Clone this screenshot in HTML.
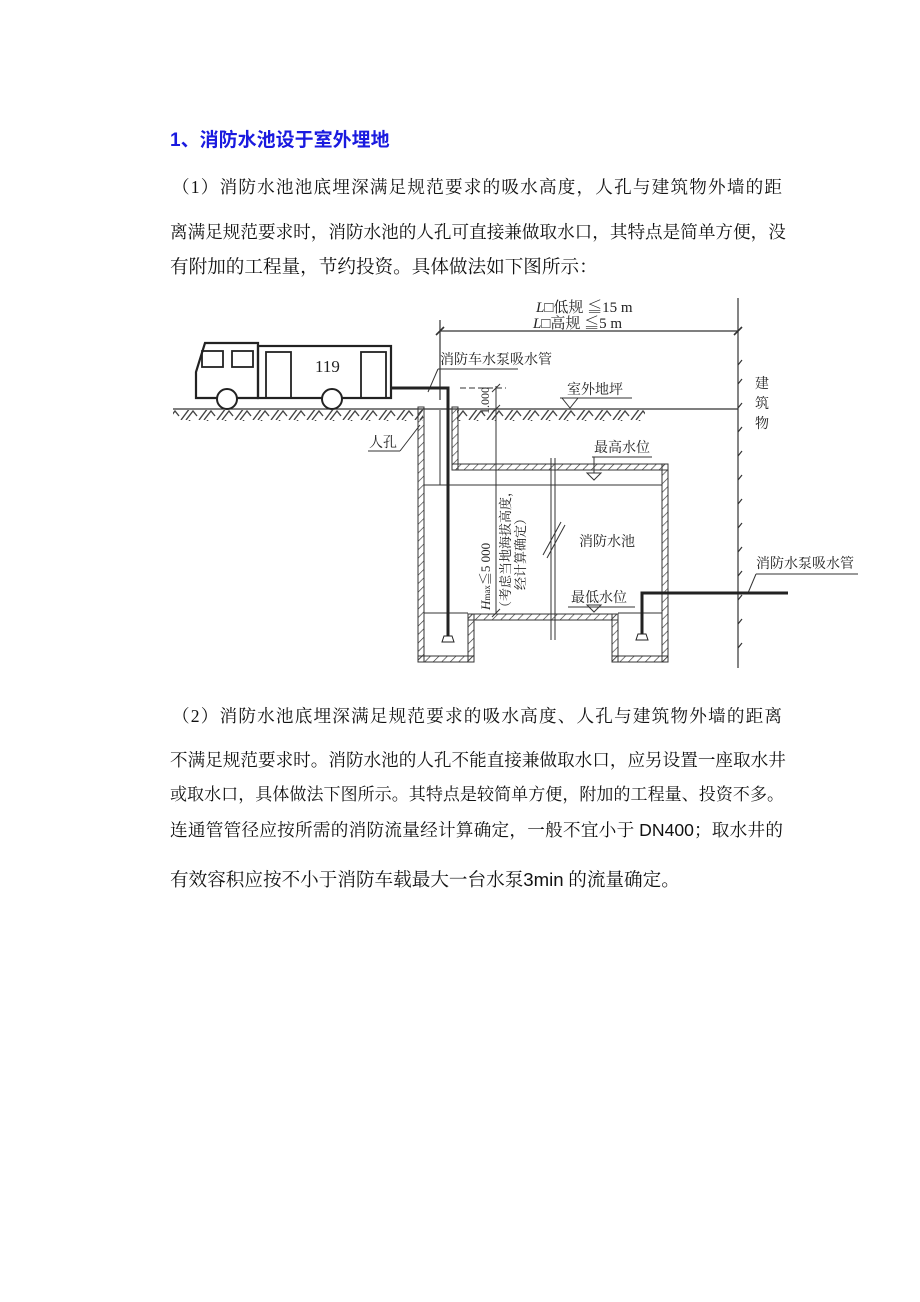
<!DOCTYPE html>
<html><head><meta charset="utf-8"><style>
html,body{margin:0;padding:0;background:#fff;}
body{width:920px;height:1302px;position:relative;overflow:hidden;font-family:"Liberation Serif","Noto Serif CJK SC","Noto Sans CJK SC",serif;color:#111;}
.l{position:absolute;left:170px;font-size:18.6px;white-space:nowrap;line-height:24px;}
.j{width:614px;font-size:17.6px;text-align:justify;text-align-last:justify;white-space:nowrap;}
.h{position:absolute;left:170px;top:125px;font-size:19px;font-weight:bold;color:#1a1adf;font-family:"Liberation Sans","Noto Sans CJK SC",sans-serif;}
svg{position:absolute;left:0;top:0;}
svg text{font-family:"Liberation Serif","Noto Serif CJK SC",serif;fill:#222;}
</style></head><body>
<div class="h">1、消防水池设于室外埋地</div>
<div class="l j" style="top:175px;left:172px;width:610px">（1）消防水池池底埋深满足规范要求的吸水高度，人孔与建筑物外墙的距</div>
<div class="l j" style="top:220px">离满足规范要求时，消防水池的人孔可直接兼做取水口，其特点是简单方便，没</div>
<div class="l" style="top:256px">有附加的工程量，节约投资。具体做法如下图所示：</div>

<div class="l j" style="top:704px;left:172px;width:610px">（2）消防水池底埋深满足规范要求的吸水高度、人孔与建筑物外墙的距离</div>
<div class="l j" style="top:748px">不满足规范要求时。消防水池的人孔不能直接兼做取水口，应另设置一座取水井</div>
<div class="l j" style="top:783px;font-size:17px">或取水口，具体做法下图所示。其特点是较简单方便，附加的工程量、投资不多。</div>
<div class="l j" style="top:818px;width:613px">连通管管径应按所需的消防流量经计算确定，一般不宜小于 <span style="font-family:'Liberation Sans',sans-serif">DN400</span>；取水井的</div>
<div class="l" style="top:868px">有效容积应按不小于消防车载最大一台水泵<span style="font-family:'Liberation Sans',sans-serif">3min</span> 的流量确定。</div>

<svg width="920" height="1302" viewBox="0 0 920 1302">
<defs>
<pattern id="hat" width="6" height="6" patternUnits="userSpaceOnUse" patternTransform="rotate(45)">
<line x1="0" y1="0" x2="0" y2="6" stroke="#333" stroke-width="1.3"/></pattern>
<pattern id="gh" width="18" height="12" patternUnits="userSpaceOnUse">
<path d="M1 12 L10 0 M6 12 L13 3 L17 8" stroke="#444" stroke-width="1.4" fill="none"/></pattern>
</defs>
<g stroke="#333" fill="none" stroke-width="1.2">
<line x1="173" y1="409" x2="738" y2="409"/>
<rect x="173" y="410" width="250" height="11" fill="url(#gh)" stroke="none"/>
<rect x="457" y="410" width="188" height="11" fill="url(#gh)" stroke="none"/>
<line x1="440" y1="320" x2="440" y2="400"/>
<line x1="440" y1="331" x2="738" y2="331"/>
<line x1="436" y1="335" x2="444" y2="327" stroke-width="1.6"/>
<line x1="734" y1="335" x2="742" y2="327" stroke-width="1.6"/>
<line x1="738" y1="298" x2="738" y2="668"/>
</g>
<g stroke="#333" stroke-width="1.2">
<path d="M738 365 l4 -5 M738 384 l4 -5 M738 408 l4 -5 M738 432 l4 -5 M738 456 l4 -5 M738 480 l4 -5 M738 504 l4 -5 M738 528 l4 -5 M738 552 l4 -5 M738 576 l4 -5 M738 600 l4 -5 M738 624 l4 -5 M738 648 l4 -5"/>
</g>
<g fill="url(#hat)" stroke="#333" stroke-width="1">
<rect x="418" y="407" width="6" height="255"/>
<rect x="452" y="407" width="6" height="63"/>
<rect x="452" y="464" width="216" height="6"/>
<rect x="662" y="464" width="6" height="198"/>
<rect x="418" y="656" width="56" height="6"/>
<rect x="612" y="656" width="56" height="6"/>
<rect x="468" y="614" width="6" height="48"/>
<rect x="612" y="614" width="6" height="48"/>
<rect x="468" y="614" width="150" height="6"/>
</g>
<g stroke="#333" fill="none" stroke-width="1">
<line x1="424" y1="485" x2="662" y2="485"/>
<line x1="424" y1="613" x2="468" y2="613"/>
<line x1="618" y1="613" x2="662" y2="613"/>
<line x1="440" y1="410" x2="440" y2="485"/>
<line x1="551" y1="458" x2="551" y2="640"/><line x1="555" y1="458" x2="555" y2="640"/>
<line x1="543" y1="555" x2="561" y2="522"/><line x1="547" y1="558" x2="565" y2="525"/>
<line x1="496" y1="386" x2="496" y2="614"/>
<line x1="460" y1="388" x2="506" y2="388" stroke-dasharray="6,3"/>
<line x1="492" y1="392" x2="500" y2="384"/>
<line x1="492" y1="413" x2="500" y2="405"/>
<line x1="492" y1="617" x2="500" y2="609"/>
<path d="M562 398 L578 398 L570 408 Z"/>
<path d="M587 473 L601 473 L594 480 Z"/>
<path d="M587 605 L601 605 L594 612 Z"/>
<line x1="438" y1="369" x2="518" y2="369"/>
<line x1="438" y1="369" x2="428" y2="392"/>
<line x1="560" y1="398" x2="632" y2="398"/>
<line x1="368" y1="451" x2="400" y2="451"/><line x1="400" y1="451" x2="420" y2="425"/>
<line x1="592" y1="457" x2="652" y2="457"/><line x1="594" y1="457" x2="594" y2="473"/>
<line x1="568" y1="607" x2="635" y2="607"/>
<line x1="756" y1="574" x2="858" y2="574"/><line x1="756" y1="574" x2="748" y2="593"/>
</g>
<g stroke="#222" fill="none" stroke-width="3">
<path d="M391 388 L448 388 L448 636"/>
<path d="M788 593 L642 593 L642 634"/>
</g>
<g fill="#fff" stroke="#222" stroke-width="1"><path d="M444 636 h8 l2 6 h-12 z"/><path d="M638 634 h8 l2 6 h-12 z"/></g>
<g stroke="#222" fill="none" stroke-width="2.2">
<path d="M258 398 L196 398 L196 372 L205 343 L258 343 Z"/>
<rect x="258" y="346" width="133" height="52"/>
<rect x="202" y="351" width="21" height="16" stroke-width="1.8"/>
<rect x="232" y="351" width="21" height="16" stroke-width="1.8"/>
<rect x="266" y="352" width="25" height="46" stroke-width="1.8"/>
<rect x="361" y="352" width="25" height="46" stroke-width="1.8"/>
</g>
<g stroke="#222" fill="#fff" stroke-width="2"><circle cx="227" cy="399" r="10"/><circle cx="332" cy="399" r="10"/></g>
<text x="315" y="372" font-size="17">119</text>
<text x="536" y="312" font-size="15"><tspan font-style="italic">L</tspan>□低规 ≦15 m</text>
<text x="533" y="328" font-size="15"><tspan font-style="italic">L</tspan>□高规 ≦5 m</text>
<text x="440" y="364" font-size="14">消防车水泵吸水管</text>
<text x="567" y="394" font-size="14">室外地坪</text>
<text x="369" y="447" font-size="14">人孔</text>
<text x="594" y="452" font-size="14">最高水位</text>
<text x="579" y="546" font-size="14">消防水池</text>
<text x="571" y="602" font-size="14">最低水位</text>
<text x="756" y="568" font-size="14">消防水泵吸水管</text>
<text x="755" y="388" font-size="14">建</text>
<text x="755" y="408" font-size="14">筑</text>
<text x="755" y="428" font-size="14">物</text>
<text transform="translate(489,414) rotate(-90)" font-size="12">1.000</text>
<text transform="translate(490,610) rotate(-90)" font-size="13"><tspan font-style="italic">H</tspan><tspan font-size="9">max</tspan>≦5 000</text>
<text transform="translate(510,614) rotate(-90)" font-size="13">（考虑当地海拔高度，</text>
<text transform="translate(525,590) rotate(-90)" font-size="13">经计算确定）</text>
</svg>
</body></html>
